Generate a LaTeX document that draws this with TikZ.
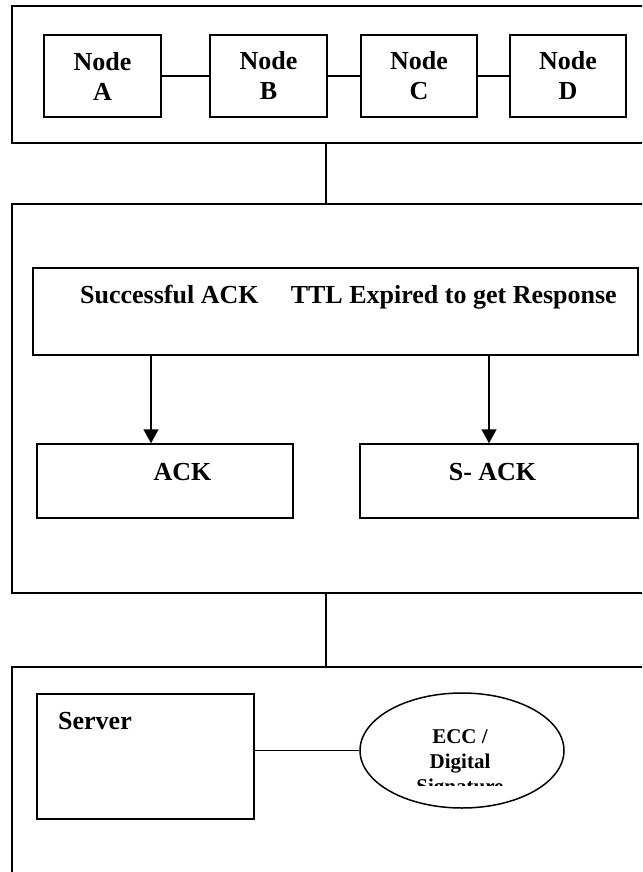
\documentclass[tikz,border=0pt]{standalone}
\usepackage{fontspec}
\setmainfont{Liberation Serif}
\usetikzlibrary{arrows.meta, positioning, calc, shapes.geometric}

\tikzset{
  panel/.style={draw, line width=1.5pt, inner sep=0pt},
  nodebox/.style={draw, line width=1.5pt, inner sep=0pt, minimum height=82pt,
    align=center, font=\fontsize{26}{30}\selectfont\bfseries},
  ackbox/.style={draw, line width=1.5pt, inner sep=0pt, minimum height=74pt},
  lbl/.style={anchor=base, inner sep=0pt, font=\fontsize{26}{30}\selectfont\bfseries},
  wire/.style={line width=1.5pt},
  flow/.style={line width=1.5pt, -{Triangle[length=14pt, width=15pt]}},
}

\begin{document}
\begin{tikzpicture}[x=1pt, y=-1pt]

    \clip (0,0) rectangle (642,872);
    \fill[white] (0,0) rectangle (642,872);

    % three tiers, cut off at the right edge
    \node[panel, minimum width=648pt, minimum height=137pt] (tierA) at (336, 74.5) {};
    \node[panel, minimum width=648pt, minimum height=389pt] (tierB) at (336, 398.5) {};
    \node[panel, minimum width=648pt, minimum height=233pt] (tierC) at (336, 783.5) {};
    \coordinate (spine) at (326, 0);

    \draw[wire] (tierA.south -| spine) -- (tierB.north -| spine);
    \draw[wire] (tierB.south -| spine) -- (tierC.north -| spine);

    % sensor nodes
    \node[nodebox, minimum width=117pt] (nA) at (102.5, 76) {Node\\A};
    \node[nodebox, minimum width=117pt] (nB) at (268.5, 76) {Node\\B};
    \node[nodebox, minimum width=116pt] (nC) at (419, 76) {Node\\C};
    \node[nodebox, minimum width=116pt] (nD) at (568, 76) {Node\\D};

    \draw[wire] (nA) -- (nB);
    \draw[wire] (nB) -- (nC);
    \draw[wire] (nC) -- (nD);

    % acknowledgement
    \node[panel, minimum width=605pt, minimum height=87pt] (outcome) at (335.5, 311.5) {};
    \node[lbl, anchor=base west] (okmsg) at (80, 303) {Successful ACK};
    \node[lbl, anchor=base east] (ttlmsg) at (617, 303) {TTL Expired to get Response};

    \node[ackbox, minimum width=256pt] (ack) at (165, 481) {};
    \node[ackbox, minimum width=278pt] (sack) at (499, 481) {};
    \node[lbl] (acklbl) at (182.5, 480) {ACK};
    \node[lbl] (sacklbl) at (492.5, 480) {S- ACK};

    \coordinate (a1) at (151, 0);
    \coordinate (a2) at (489, 0);
    \draw[flow] (outcome.south -| a1) -- (ack.north -| a1);
    \draw[flow] (outcome.south -| a2) -- (sack.north -| a2);

    % server side
    \node[panel, minimum width=217pt, minimum height=125pt] (server) at (145.5, 756.5) {};
    \node[lbl, anchor=base west] (srvlbl) at (58, 729) {Server};

    \node[ellipse, draw, line width=1.5pt, inner sep=0pt,
          minimum width=204pt, minimum height=115pt] (sig) at (462, 750.5) {};
    \draw[wire] (sig.west) -- (sig.west -| server.east);

    \begin{scope}
      \clip (350,700) rectangle (580,785);
      \node[anchor=base, inner sep=0pt, align=center,
            font=\fontsize{21}{25}\selectfont\bfseries] (siglbl) at (460, 793)
            {ECC /\\Digital\\Signature};
    \end{scope}

\end{tikzpicture}
\end{document}
